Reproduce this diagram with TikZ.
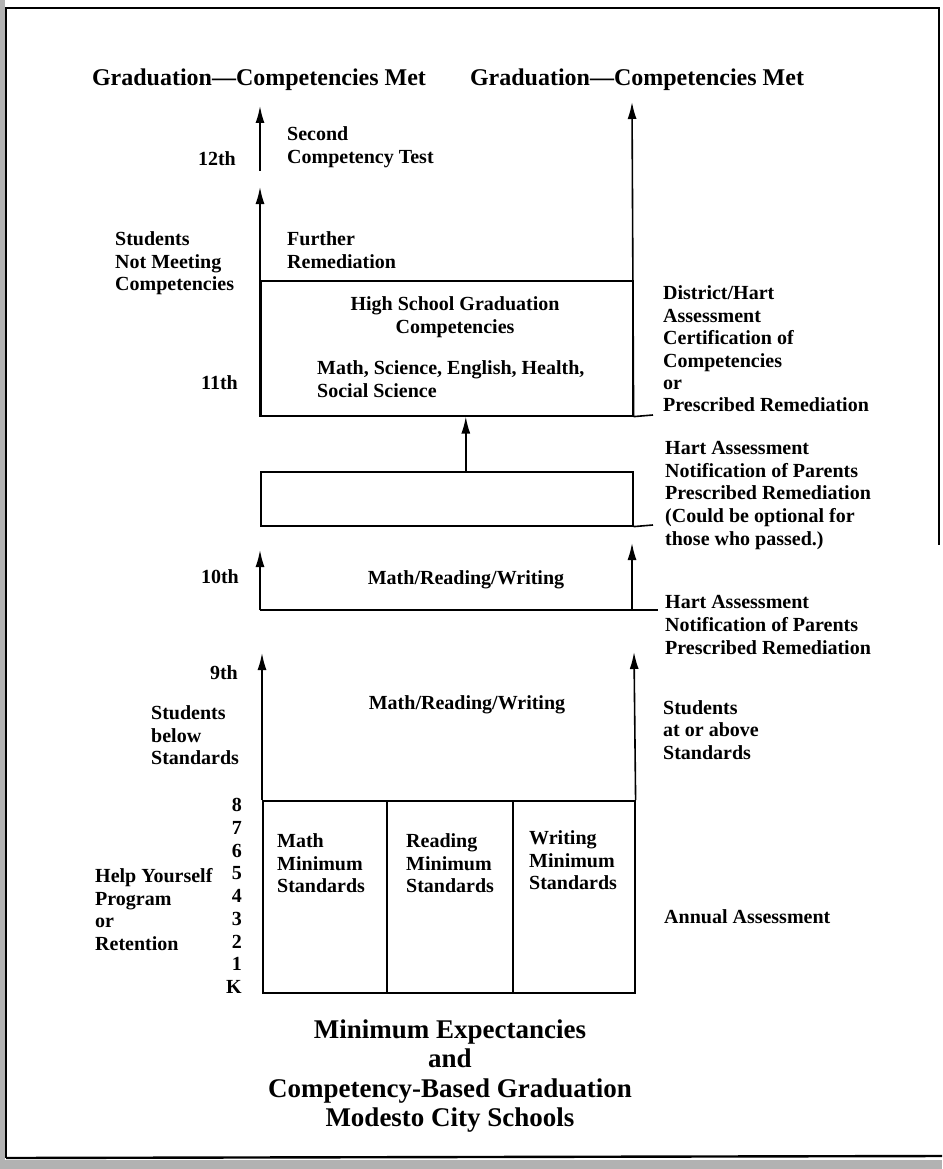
\documentclass[tikz,border=0pt]{standalone}
\usepackage{fontspec}
\setmainfont{Liberation Serif}
\usetikzlibrary{arrows.meta}
\tikzset{
  lbl/.style={inner sep=0pt, font=\bfseries\fontsize{20}{22.6}\selectfont, align=left},
  ttl/.style={inner sep=0pt, font=\bfseries\fontsize{24}{28}\selectfont},
  big/.style={inner sep=0pt, font=\bfseries\fontsize{27}{29.3}\selectfont, align=center},
  ln/.style={line width=1.6pt},
  arr/.style={line width=1.6pt, -{Latex[length=17pt,width=9pt]}},
  boxr/.style={draw, line width=1.6pt, rectangle, inner sep=0pt, anchor=north west},
  frame/.style={line width=2.4pt},
}
\begin{document}
\begin{tikzpicture}[x=1pt,y=-1pt]
\useasboundingbox (0,0) rectangle (942,1169);
% scan margins
\fill[black!30] (0,0) rectangle (5,1169);
\fill[black!30] (0,1160) rectangle (942,1169);
\draw[frame] (6,1158) -- (6,8) -- (939,8) -- (939,545);
\draw[frame] (6,1158) -- (942,1156);

% titles
\node[ttl] (t1) at (259,80) {Graduation---Competencies Met};
\node[ttl] (t2) at (637,80) {Graduation---Competencies Met};

% 12th arrow
\coordinate (a12b) at (260,171);
\coordinate (a12t) at (260,106);
\draw[arr] (a12b) -- (a12t);

% high school box
\node[boxr, minimum width=372pt, minimum height=135pt] (hs) at (260,280) {};
\coordinate (l11t) at (260,187);
\coordinate (r12t) at (632,102);
\coordinate (hsx) at (653,415);
\draw[arr] (hs.south west) -- (l11t);
\draw[arr] (hs.south east) -- (r12t);
\draw[ln] (hs.south east) -- (hsx);

% box 2
\node[boxr, minimum width=372pt, minimum height=54pt] (b2) at (260,471) {};
\coordinate (b2x) at (653,525);
\draw[arr] ([xshift=19pt]b2.north) -- ([xshift=19pt]hs.south);
\draw[ln] (b2.south east) -- (b2x);

% box 3 (10th)
\coordinate (b3l) at (260,610);
\coordinate (b3r) at (632,610);
\coordinate (b3x) at (658,610);
\coordinate (b3lt) at (260,550);
\coordinate (b3rt) at (632,543);
\draw[ln] (b3l) -- (b3r) -- (b3x);
\draw[arr] (b3l) -- (b3lt);
\draw[arr] (b3r) -- (b3rt);

% box 4 (9th) and minimum standards
\node[boxr, minimum width=372pt, minimum height=192pt] (ms) at (262,800) {};
\coordinate (b4lt) at (262,653);
\coordinate (b4rt) at (634,652);
\draw[arr] (ms.north west) -- (b4lt);
\draw[arr] (ms.north east) -- (b4rt);
\draw[ln] (387,800) -- (387,992);
\draw[ln] (513,800) -- (513,992);

% texts inside
\node[lbl, anchor=west] (sct) at (287,147) {Second\\Competency Test};
\node[lbl, anchor=west] (fr) at (287,250) {Further\\Remediation};
\node[lbl, align=center] (hsg) at (455,317) {High School Graduation\\Competencies};
\node[lbl, anchor=west] (subj) at (317,379) {Math, Science, English, Health,\\Social Science};
\node[lbl] (mrw1) at (466,580) {Math/Reading/Writing};
\node[lbl] (mrw2) at (467,705) {Math/Reading/Writing};
\node[lbl, anchor=west] (mms) at (277,863.5) {Math\\Minimum\\Standards};
\node[lbl, anchor=west] (rms) at (406,863.5) {Reading\\Minimum\\Standards};
\node[lbl, anchor=west] (wms) at (529,860.5) {Writing\\Minimum\\Standards};

% left labels
\node[lbl, anchor=east] (g12) at (236,159) {12th};
\node[lbl, anchor=west] (snm) at (115,263.5) {Students\\Not Meeting\\Competencies};
\node[lbl, anchor=east] (g11) at (238,383) {11th};
\node[lbl, anchor=east] (g10) at (239,577) {10th};
\node[lbl, anchor=east] (g9) at (238,673) {9th};
\node[lbl, anchor=west] (sbs) at (151,735.5) {Students\\below\\Standards};
\node[lbl, align=right, anchor=east, font=\bfseries\fontsize{20}{22.75}\selectfont] (grades) at (242,896) {8\\7\\6\\5\\4\\3\\2\\1\\K};
\node[lbl, anchor=west] (hy) at (95,909.5) {Help Yourself\\Program\\or\\Retention};

% right labels
\node[lbl, anchor=west, font=\bfseries\fontsize{20}{22.4}\selectfont] (dh) at (663,349) {District/Hart\\Assessment\\Certification of\\Competencies\\or\\Prescribed Remediation};
\node[lbl, anchor=west, font=\bfseries\fontsize{20}{22.75}\selectfont] (ha1) at (665,495.5) {Hart Assessment\\Notification of Parents\\Prescribed Remediation\\(Could be optional for\\those who passed.)};
\node[lbl, anchor=west] (ha2) at (665,625) {Hart Assessment\\Notification of Parents\\Prescribed Remediation};
\node[lbl, anchor=west] (sas) at (663,730) {Students\\at or above\\Standards};
\node[lbl, anchor=west] (aa) at (664,917) {Annual Assessment};

% bottom title
\node[big] (bt) at (450,1076) {Minimum Expectancies\\and\\Competency-Based Graduation\\Modesto City Schools};
\end{tikzpicture}
\end{document}
